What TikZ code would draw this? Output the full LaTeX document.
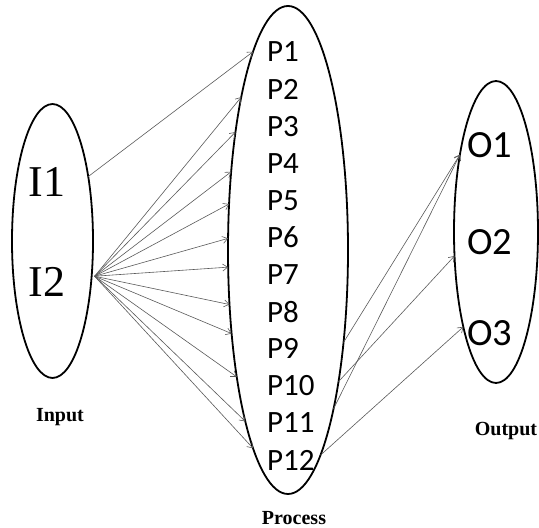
\documentclass[tikz,border=0pt]{standalone}
\usepackage{fontspec}
\setmainfont{Liberation Serif}
\newfontfamily\calib{Carlito}
\usetikzlibrary{arrows.meta,shapes.geometric}
\begin{document}
\begin{tikzpicture}[x=1pt,y=1pt,
  oval/.style={draw, ellipse, line width=1.8pt, inner sep=0pt, outer sep=0pt},
  ilabel/.style={font=\fontsize{44}{44}\selectfont, inner sep=0pt},
  plabel/.style={font=\calib\fontsize{31}{31}\selectfont, inner sep=0pt, anchor=west},
  olabel/.style={font=\calib\fontsize{38.5}{38.5}\selectfont, inner sep=0pt, anchor=west},
  caption/.style={font=\bfseries\fontsize{20}{20}\selectfont, inner sep=0pt},
  link/.style={draw=black!65, line width=0.6pt, -{Straight Barb[length=5pt,width=7pt]}}]
\useasboundingbox (0,0) rectangle (539,528);

% the three groups
\node[oval, minimum width=81, minimum height=274] (inp) at (52.5,287) {};
\node[oval, minimum width=120, minimum height=488] (proc) at (288,278) {};
\node[oval, minimum width=84, minimum height=302] (outp) at (496,296) {};

% input labels
\node[ilabel] (i1) at (47,346) {I1};
\node[ilabel] (i2) at (47,246) {I2};

% process labels
\foreach \k in {1,...,12}
  \node[plabel] (p\k) at (267,{476-(\k-1)*37.1}) {P\k};

% output labels
\node[olabel] (o1) at (467,383) {O1};
\node[olabel] (o2) at (467,286) {O2};
\node[olabel] (o3) at (467,195) {O3};

% captions
\node[caption] (capin) at (60,111) {Input};
\node[caption] (capproc) at (294,10) {Process};
\node[caption] (capout) at (506,97) {Output};

% input to process
\coordinate (fan) at ([xshift=3pt]inp.-42);
\draw[link] (inp.61.8) -- (proc.100.4);
\foreach \a in {107.0,114.7,126.1,142.1,169.4,196.7,223.5,236.3,248.3,256.6,260.2}
  \draw[link] (fan) -- (proc.\a);

% process to output
\draw[link] (proc.-59.4) -- (outp.115.7);
\draw[link] (proc.-74.1) -- (outp.115.7);
\draw[link] (proc.-69.6) -- (outp.210.2);
\draw[link] (proc.-81.1) -- (outp.251.4);
\end{tikzpicture}
\end{document}
